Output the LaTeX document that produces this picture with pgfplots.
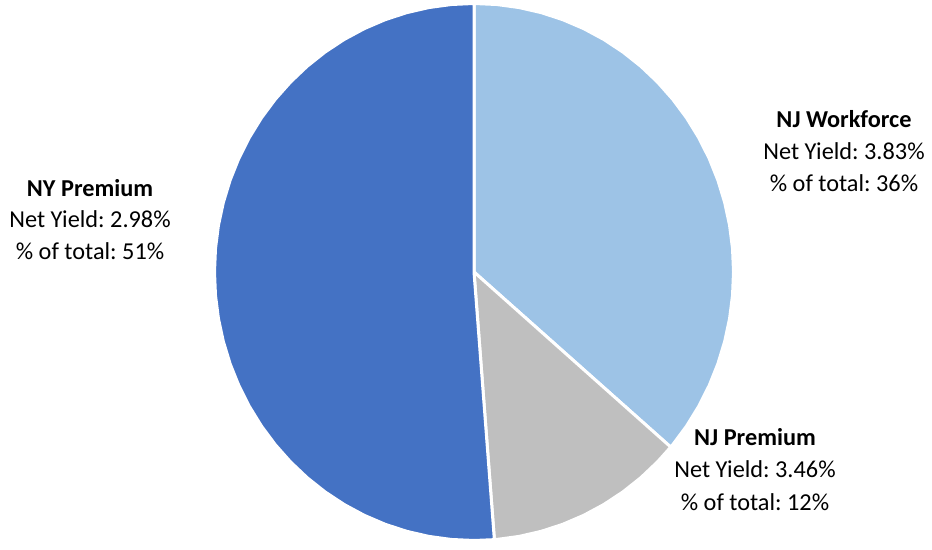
\documentclass[border=0pt]{standalone}
\usepackage{pgfplots}
\pgfplotsset{compat=1.18}
\usepackage{fontspec}
\setmainfont{Carlito}
\frenchspacing

\definecolor{nyblue}{HTML}{4472C4}
\definecolor{njlight}{HTML}{9DC3E6}
\definecolor{njgray}{HTML}{BFBFBF}

\tikzset{lbl/.style={anchor=base, font=\fontsize{24.3}{32}\selectfont, inner sep=0pt}}

\begin{document}
\begin{tikzpicture}
\begin{axis}[
    name=ax,
    scale only axis,
    width=932pt, height=550pt,
    xmin=-1.8266, xmax=1.7649,
    ymin=-1.0354, ymax=1.0130,
    hide axis,
    clip=false,
    every axis plot/.append style={draw=white, line width=3pt, line join=round},
  ]
  % NJ Workforce 36%  (angle, radius)
  \addplot[fill=njlight, data cs=polar] coordinates {
    (0,0) (90,1) (85,1) (80,1) (75,1) (70,1) (65,1) (60,1) (55,1) (50,1)
    (45,1) (40,1) (35,1) (30,1) (25,1) (20,1) (15,1) (10,1) (5,1) (0,1)
    (-5,1) (-10,1) (-15,1) (-20,1) (-25,1) (-30,1) (-35,1) (-40,1) (-40.7,1)
  } -- cycle;
  % NJ Premium 12%
  \addplot[fill=njgray, data cs=polar] coordinates {
    (0,0) (-40.7,1) (-45,1) (-50,1) (-55,1) (-60,1) (-65,1) (-70,1)
    (-75,1) (-80,1) (-85,1) (-85.5,1)
  } -- cycle;
  % NY Premium 51%
  \addplot[fill=nyblue, data cs=polar] coordinates {
    (0,0) (-85.5,1) (-90,1) (-95,1) (-100,1) (-105,1) (-110,1) (-115,1)
    (-120,1) (-125,1) (-130,1) (-135,1) (-140,1) (-145,1) (-150,1)
    (-155,1) (-160,1) (-165,1) (-170,1) (-175,1) (-180,1) (-185,1)
    (-190,1) (-195,1) (-200,1) (-205,1) (-210,1) (-215,1) (-220,1)
    (-225,1) (-230,1) (-235,1) (-240,1) (-245,1) (-250,1) (-255,1)
    (-260,1) (-265,1) (-270,1)
  } -- cycle;

  % labels
  \node[lbl] at (rel axis cs:0.9056,0.7673) {\bfseries NJ Workforce};
  \node[lbl] at (rel axis cs:0.9056,0.7091) {Net Yield: 3.83\%};
  \node[lbl] at (rel axis cs:0.9056,0.6509) {\% of total: 36\%};

  \node[lbl] at (rel axis cs:0.0966,0.6436) {\bfseries NY Premium};
  \node[lbl] at (rel axis cs:0.0966,0.5855) {Net Yield: 2.98\%};
  \node[lbl] at (rel axis cs:0.0966,0.5273) {\% of total: 51\%};

  \node[lbl] at (rel axis cs:0.8101,0.1891) {\bfseries NJ Premium};
  \node[lbl] at (rel axis cs:0.8101,0.1309) {Net Yield: 3.46\%};
  \node[lbl] at (rel axis cs:0.8101,0.0727) {\% of total: 12\%};
\end{axis}
\pgfresetboundingbox
\path[use as bounding box] (ax.south west) rectangle (ax.north east);
\end{tikzpicture}
\end{document}
